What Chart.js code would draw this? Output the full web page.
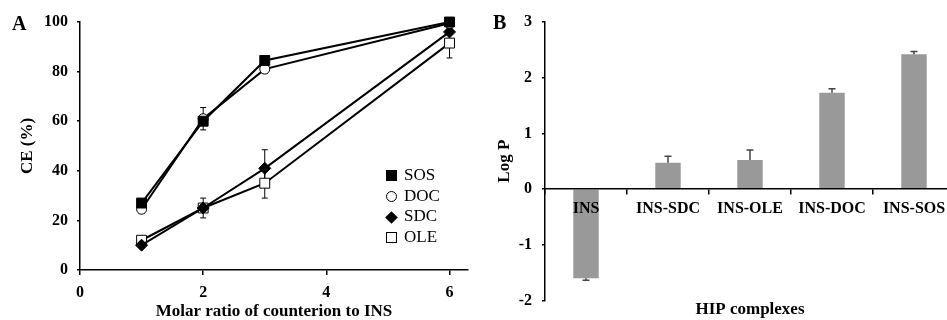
<!DOCTYPE html>
<html>
<head>
<meta charset="utf-8">
<script src="https://cdn.jsdelivr.net/npm/chart.js@4.4.1/dist/chart.umd.min.js"></script>
<style>
	html, body { margin: 0; padding: 0; background: #fff; width: 947px; height: 320px; overflow: hidden; }
	body { position: relative; font-family: 'Liberation Serif', 'Times New Roman', serif; }
	#chart-a { position: absolute; left: 0; top: 0; }
	#chart-b { position: absolute; left: 480px; top: 0; }
	.panel-label { position: absolute; font-weight: bold; font-size: 20px; line-height: 20px; }
	.legend { position: absolute; left: 386px; top: 165px; font-size: 17px; line-height: 20.7px; }
	.legend div { height: 20.7px; white-space: nowrap; }
	.mk { display: inline-block; width: 11px; height: 11px; box-sizing: border-box; margin-right: 7px; vertical-align: -1px; }
	.mk.sos { background: #000; }
	.mk.doc { border: 1px solid #000; border-radius: 50%; background: #fff; }
	.mk.sdc { width: 9px; height: 9px; background: #000; transform: rotate(45deg); margin-left: 1px; margin-right: 8px; }
	.mk.ole { border: 1px solid #000; background: #fff; }
</style>
</head>
<body>
<canvas id="chart-a" width="480" height="320"></canvas>
<canvas id="chart-b" width="480" height="320"></canvas>
<div class="panel-label" style="left:12px; top:13px;">A</div>
<div class="panel-label" style="left:493px; top:12px;">B</div>
<div class="legend">
	<div><span class="mk sos"></span>SOS</div>
	<div><span class="mk doc"></span>DOC</div>
	<div><span class="mk sdc"></span>SDC</div>
	<div><span class="mk ole"></span>OLE</div>
</div>
<script>
// panel A: capture efficiency vs molar ratio
const ratios = [1, 2, 3, 6]
const sosCE = [27, 60, 84.5, 100]
const docCE = [24.5, 61, 81, 99.5]
const sdcCE = [10, 25, 41, 96]
const oleCE = [12, 25, 35, 91.5]
const sosErr = [1.5, 1, 1, 0.3]
const docErr = [1.5, 4.5, 1.5, 0.5]
const sdcErr = [0.5, 1, 7.5, 1]
const oleErr = [1, 4, 6, 6]
const xTicksA = [0, 2, 4, 6]
const yTicksA = [0, 20, 40, 60, 80, 100]

// panel B: log P of the HIP complexes
const complexes = ['INS', 'INS-SDC', 'INS-OLE', 'INS-DOC', 'INS-SOS']
const logP = [-1.6, 0.47, 0.52, 1.73, 2.42]
const logPErr = [0.04, 0.12, 0.18, 0.07, 0.05]
const yTicksB = [-2, -1, 0, 1, 2, 3]

const serif = "'Liberation Serif', 'Times New Roman', serif"
const tickFont = { family: serif, size: 16, weight: 'bold' }
const titleFont = { family: serif, size: 17, weight: 'bold', lineHeight: 1 }

function points(ys) {
	return ratios.map((x, i) => ({ x: x, y: ys[i] }))
}

function series(label, ys, errs, style, radius, fill) {
	return {
		label: label,
		data: points(ys),
		errors: errs,
		borderColor: '#000',
		borderWidth: 2,
		pointStyle: style,
		pointRadius: radius,
		pointBorderWidth: 1,
		pointBorderColor: '#000',
		pointBackgroundColor: fill,
		tension: 0,
		clip: false,
	}
}

const errorBarsA = {
	id: 'errorBarsA',
	beforeDatasetsDraw(chart) {
		const ctx = chart.ctx
		const xs = chart.scales.x
		const ys = chart.scales.y
		ctx.save()
		ctx.strokeStyle = '#000'
		ctx.lineWidth = 1
		chart.data.datasets.forEach(ds => {
			ds.data.forEach((pt, i) => {
				const px = xs.getPixelForValue(pt.x)
				const top = ys.getPixelForValue(pt.y + ds.errors[i])
				const bot = ys.getPixelForValue(pt.y - ds.errors[i])
				ctx.beginPath()
				ctx.moveTo(px, top)
				ctx.lineTo(px, bot)
				ctx.moveTo(px - 3, top)
				ctx.lineTo(px + 3, top)
				ctx.moveTo(px - 3, bot)
				ctx.lineTo(px + 3, bot)
				ctx.stroke()
			})
		})
		ctx.restore()
	},
}

new Chart(document.getElementById('chart-a').getContext('2d'), {
	type: 'line',
	data: {
		datasets: [
			series('SOS', sosCE, sosErr, 'rect', 7, '#000'),
			series('DOC', docCE, docErr, 'circle', 5, '#fff'),
			series('SDC', sdcCE, sdcErr, 'rectRot', 6, '#000'),
			series('OLE', oleCE, oleErr, 'rect', 7, '#fff'),
		],
	},
	options: {
		responsive: false,
		animation: false,
		layout: { padding: { left: 0, right: 12, top: 22, bottom: 0 } },
		plugins: { legend: { display: false }, tooltip: { enabled: false } },
		scales: {
			x: {
				type: 'linear',
				min: 0,
				max: 6.3,
				afterBuildTicks: axis => { axis.ticks = xTicksA.map(v => ({ value: v })) },
				afterFit: scale => { scale.height = 50 },
				grid: { drawOnChartArea: false, tickLength: 5, color: '#000', lineWidth: 1.5 },
				border: { color: '#000', width: 1.5 },
				ticks: { color: '#000', font: tickFont, padding: 8, maxRotation: 0 },
				title: {
					display: true,
					text: 'Molar ratio of counterion to INS',
					color: '#000',
					font: titleFont,
					padding: { top: 0, bottom: 0 },
				},
			},
			y: {
				min: 0,
				max: 100,
				afterBuildTicks: axis => { axis.ticks = yTicksA.map(v => ({ value: v })) },
				afterFit: scale => { scale.width = 80 },
				grid: { drawOnChartArea: false, tickLength: 3, color: '#000', lineWidth: 1.5 },
				border: { color: '#000', width: 1.5 },
				ticks: { color: '#000', font: tickFont, padding: 9 },
				title: {
					display: true,
					text: 'CE (%)',
					color: '#000',
					font: titleFont,
					padding: { top: 19, bottom: 0 },
				},
			},
		},
	},
	plugins: [errorBarsA],
})

const errorBarsB = {
	id: 'errorBarsB',
	afterDatasetsDraw(chart) {
		const ctx = chart.ctx
		const meta = chart.getDatasetMeta(0)
		const ys = chart.scales.y
		ctx.save()
		ctx.strokeStyle = '#444'
		ctx.lineWidth = 1.5
		meta.data.forEach((bar, i) => {
			const v = logP[i]
			const end = ys.getPixelForValue(v + Math.sign(v) * logPErr[i])
			const start = ys.getPixelForValue(v)
			ctx.beginPath()
			ctx.moveTo(bar.x, start)
			ctx.lineTo(bar.x, end)
			ctx.moveTo(bar.x - 3.5, end)
			ctx.lineTo(bar.x + 3.5, end)
			ctx.stroke()
		})
		ctx.restore()
	},
}

new Chart(document.getElementById('chart-b').getContext('2d'), {
	type: 'bar',
	data: {
		labels: complexes,
		datasets: [
			{
				label: 'Log P',
				data: logP,
				backgroundColor: '#999999',
				borderWidth: 0,
				categoryPercentage: 1,
				barPercentage: 0.31,
			},
		],
	},
	options: {
		responsive: false,
		animation: false,
		layout: { padding: { left: 0, right: 5, top: 22, bottom: 0 } },
		plugins: { legend: { display: false }, tooltip: { enabled: false } },
		scales: {
			x: {
				position: { y: 0 },
				grid: { drawOnChartArea: false, tickLength: 5, color: '#000', lineWidth: 1.5 },
				border: { color: '#000', width: 1.5, z: 1 },
				ticks: { color: '#000', font: tickFont, padding: 5, maxRotation: 0, autoSkip: false, z: 1 },
			},
			x2: {
				type: 'category',
				labels: complexes,
				position: 'bottom',
				afterFit: scale => { scale.height = 18 },
				grid: { display: false },
				border: { display: false },
				ticks: { display: false },
				title: {
					display: true,
					text: 'HIP complexes',
					color: '#000',
					font: titleFont,
					padding: { top: 0, bottom: 0 },
				},
			},
			y: {
				min: -2,
				max: 3,
				afterBuildTicks: axis => { axis.ticks = yTicksB.map(v => ({ value: v })) },
				afterFit: scale => { scale.width = 65 },
				grid: { drawOnChartArea: false, tickLength: 3, color: '#000', lineWidth: 1.5 },
				border: { color: '#000', width: 1.5 },
				ticks: { color: '#000', font: tickFont, padding: 10 },
				title: {
					display: true,
					text: 'Log P',
					color: '#000',
					font: titleFont,
					padding: { top: 16, bottom: 0 },
				},
			},
		},
	},
	plugins: [errorBarsB],
})
</script>
</body>
</html>
